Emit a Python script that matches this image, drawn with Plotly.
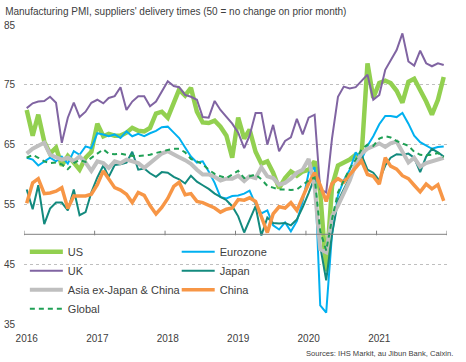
import plotly.graph_objects as go

# ---- data (monthly, Jan 2016 - Dec 2021) ----
MONTHS = [f"{2016 + i // 12}-{i % 12 + 1:02d}-15" for i in range(72)]

US = [70.8, 66.5, 70.0, 65.5, 63.5, 64.5, 61.5, 63.1, 62.0, 60.8, 62.8, 63.8,
      68.5, 66.4, 66.8, 66.5, 66.5, 67.0, 67.8, 67.3, 67.2, 67.8, 70.2, 70.5,
      69.5, 72.0, 74.2, 73.2, 74.5, 70.5, 68.7, 68.6, 69.0, 68.0, 66.5, 62.8,
      69.5, 66.0, 67.5, 63.8, 61.8, 62.2, 60.3, 57.7, 59.4, 60.5, 59.8, 60.5,
      60.8, 62.2, 57.0, 43.8, 58.0, 61.5, 62.0, 62.5, 63.3, 63.0, 78.6, 72.8,
      75.3, 75.7, 75.3, 74.0, 72.0, 75.5, 76.0, 74.2, 72.2, 70.0, 72.5, 76.3]

EUROZONE = [62.8, 62.5, 61.5, 62.2, 62.8, 62.2, 63.0, 61.8, 63.9, 63.3, 64.7, 64.4,
            66.9, 66.7, 66.4, 66.7, 66.1, 67.2, 66.4, 66.8, 66.4, 66.9, 67.3, 67.9,
            68.0, 67.0, 66.1, 64.5, 63.0, 62.0, 62.2, 60.5, 58.6, 56.2, 56.0, 56.4,
            56.5, 56.8, 57.3, 55.0, 53.5, 54.0, 51.5, 50.8, 52.0, 50.5, 52.2, 55.5,
            60.3, 61.2, 38.1, 36.9, 50.0, 56.5, 59.0, 60.8, 63.7, 62.5, 64.8, 66.4,
            68.4, 69.8, 69.8, 69.6, 70.3, 68.5, 66.5, 65.4, 64.8, 64.3, 64.6, 64.7]

UK = [71.1, 71.9, 72.2, 72.3, 73.0, 72.0, 65.3, 69.5, 72.0, 69.6, 70.5, 72.0,
      72.5, 71.9, 72.8, 73.1, 74.6, 70.8, 72.2, 73.1, 73.1, 71.4, 72.2, 73.9,
      75.6, 74.8, 74.6, 73.3, 73.0, 72.5, 69.6, 69.5, 72.3, 70.8, 69.7, 68.5,
      67.0, 64.4, 66.5, 70.3, 70.3, 65.0, 68.3, 63.9, 65.6, 66.2, 69.3, 66.7,
      69.5, 70.0, 57.5, 57.0, 66.0, 73.0, 74.7, 74.4, 74.6, 75.6, 76.7, 72.5,
      73.3, 77.5, 79.0, 80.8, 83.6, 78.9, 78.2, 80.7, 78.6, 78.1, 78.6, 78.3]

JAPAN = [57.5, 54.2, 58.2, 51.7, 54.3, 55.3, 55.3, 54.0, 57.5, 53.2, 53.7, 57.0,
         59.5, 61.5, 59.6, 61.6, 61.7, 62.0, 63.8, 60.8, 61.0, 60.2, 59.6, 60.4,
         60.3, 59.6, 59.2, 58.5, 59.8, 58.8, 58.2, 57.6, 56.8, 56.3, 55.7, 54.7,
         53.0, 50.3, 52.5, 54.7, 49.8, 52.8, 51.9, 51.8, 51.9, 51.5, 52.5, 54.5,
         56.9, 59.5, 48.0, 42.3, 50.0, 55.5, 57.5, 59.5, 61.2, 63.3, 60.8, 60.3,
         59.0, 61.5, 62.8, 63.4, 63.3, 63.5, 62.8, 60.4, 63.0, 64.3, 63.7, 63.0]

ASIA = [63.5, 64.3, 64.8, 65.3, 63.3, 62.8, 62.5, 62.8, 62.2, 63.0, 62.0, 60.6,
        62.2, 61.9, 61.1, 62.2, 61.9, 62.5, 62.2, 61.9, 61.1, 61.9, 62.6, 63.5,
        63.9, 63.3, 62.9, 62.4, 61.8, 60.8, 60.0, 60.0, 59.6, 59.0, 59.3, 59.3,
        59.8, 58.9, 59.7, 59.4, 61.2, 59.7, 59.4, 58.3, 58.6, 59.3, 60.3, 60.8,
        62.6, 58.0, 47.5, 47.0, 53.0, 54.8, 57.0, 59.0, 61.8, 63.5, 64.3, 64.8,
        65.2, 64.6, 65.2, 65.5, 63.8, 62.0, 62.8, 61.3, 61.9, 62.2, 62.4, 62.8]

CHINA = [55.2, 58.6, 59.3, 56.8, 56.9, 57.2, 57.8, 54.3, 56.4, 56.4, 56.4, 56.7,
         58.3, 60.6, 59.2, 57.8, 57.4, 56.7, 55.3, 57.0, 56.5, 54.8, 53.4, 54.5,
         56.0, 58.0, 58.7, 56.6, 56.8, 55.5, 55.3, 54.9, 54.4, 53.7, 54.2, 54.4,
         55.8, 55.7, 56.1, 55.5, 52.8, 50.3, 53.4, 54.6, 54.4, 55.3, 54.0, 56.2,
         58.5, 60.3, 58.2, 55.5, 58.5, 59.3, 58.7, 60.0, 61.2, 62.3, 60.0, 59.7,
         58.4, 62.8, 61.4, 60.9, 59.8, 59.3, 58.2, 57.1, 58.4, 57.6, 58.3, 55.6]

GLOBAL = [62.8, 63.3, 62.8, 62.2, 61.9, 62.0, 61.7, 60.9, 61.9, 62.4, 62.1, 62.8,
          63.4, 64.2, 63.5, 63.4, 63.5, 63.3, 63.1, 63.1, 63.2, 63.3, 63.6, 63.9,
          64.1, 64.3, 64.3, 63.7, 62.6, 62.2, 61.7, 60.8, 60.1, 59.7, 59.4, 60.0,
          60.6, 59.4, 59.7, 60.0, 59.2, 58.1, 57.8, 57.5, 57.5, 57.4, 57.5, 58.2,
          59.0, 59.5, 50.5, 47.3, 52.5, 57.0, 59.0, 61.0, 62.5, 64.2, 65.0, 64.8,
          66.0, 66.4, 66.2, 65.6, 65.2, 64.8, 63.8, 63.3, 63.2, 63.3, 63.6, 62.9]

SERIES = ["US", "Eurozone", "UK", "Japan", "Asia ex-Japan & China", "China", "Global"]
VALUES = [US, EUROZONE, UK, JAPAN, ASIA, CHINA, GLOBAL]
TICK_YEARS = [2016, 2017, 2018, 2019, 2020, 2021]
TICK_LABELS = ["2016", "2017", "2018", "2019", "2020", "2021"]
Y_TICKS = [35, 45, 55, 65, 75, 85]

# ---- styles ----
STYLE = {
    "US": dict(color="#92D050", width=4.5),
    "Eurozone": dict(color="#00B0F0", width=2),
    "UK": dict(color="#8064A2", width=2),
    "Japan": dict(color="#138A7E", width=2),
    "Asia ex-Japan & China": dict(color="#BFBFBF", width=4),
    "China": dict(color="#F79646", width=3.5),
    "Global": dict(color="#1FA055", width=2, dash="5px,4px"),
}
LEGEND_COL = {"US": "legend", "UK": "legend", "Asia ex-Japan & China": "legend",
              "Global": "legend", "Eurozone": "legend2", "Japan": "legend2",
              "China": "legend2"}
FONT = "Liberation Sans, Arial, sans-serif"

fig = go.Figure()
for name, vals in zip(SERIES, VALUES):
    fig.add_trace(go.Scatter(x=MONTHS, y=vals, name=name, mode="lines",
                             line=STYLE[name], legend=LEGEND_COL[name],
                             legendgroup=name))

# x-axis line drawn at y = 50 with small ticks
fig.add_shape(type="line", xref="paper", yref="y", x0=0, x1=1, y0=50, y1=50,
              line=dict(color="#808080", width=1))
for yr in TICK_YEARS + [TICK_YEARS[-1] + 1]:
    fig.add_shape(type="line", xref="x", yref="y", x0=f"{yr}-01-01", x1=f"{yr}-01-01",
                  y0=49.83, y1=50.6, line=dict(color="#808080", width=1))

fig.add_annotation(text="Sources: IHS Markit, au Jibun Bank, Caixin.",
                   xref="paper", yref="paper", x=1.019, y=-0.097,
                   xanchor="right", yanchor="middle", showarrow=False,
                   font=dict(size=7.6, color="#404040", family=FONT))

legend_common = dict(orientation="v", yanchor="top", xanchor="left",
                     bgcolor="rgba(0,0,0,0)", itemwidth=33, tracegroupgap=5,
                     font=dict(size=11, color="#404040", family=FONT),
                     traceorder="normal")

fig.update_layout(
    width=466, height=362,
    margin=dict(l=24, r=19, t=25, b=38, autoexpand=False),
    paper_bgcolor="white", plot_bgcolor="white",
    font=dict(family=FONT, size=10, color="#404040"),
    title=dict(text="Manufacturing PMI, suppliers' delivery times (50 = no change on prior month)",
               x=0.011, xanchor="left", xref="container",
               y=0.969, yanchor="middle", yref="container",
               font=dict(size=10, color="#404040", family=FONT)),
    showlegend=True,
    legend=dict(x=0.002, y=0.29, **legend_common),
    legend2=dict(x=0.361, y=0.29, **legend_common),
    xaxis=dict(type="date", range=["2016-01-01", "2022-01-01"],
               tickvals=[f"{y}-01-15" for y in TICK_YEARS], ticktext=TICK_LABELS,
               showgrid=False, showline=False, zeroline=False, automargin=False,
               ticks="outside", ticklen=5, tickcolor="rgba(0,0,0,0)",
               tickfont=dict(size=10, color="#404040")),
    yaxis=dict(range=[35, 85], tickvals=Y_TICKS, showgrid=True,
               gridcolor="#BFBFBF", griddash="dot", gridwidth=1,
               zeroline=False, showline=False, automargin=False,
               ticks="outside", ticklen=6, tickcolor="rgba(0,0,0,0)",
               tickfont=dict(size=10, color="#404040")),
)

fig.write_html("out.html", config={"displayModeBar": False},
               post_script="document.body.style.margin='0';")
